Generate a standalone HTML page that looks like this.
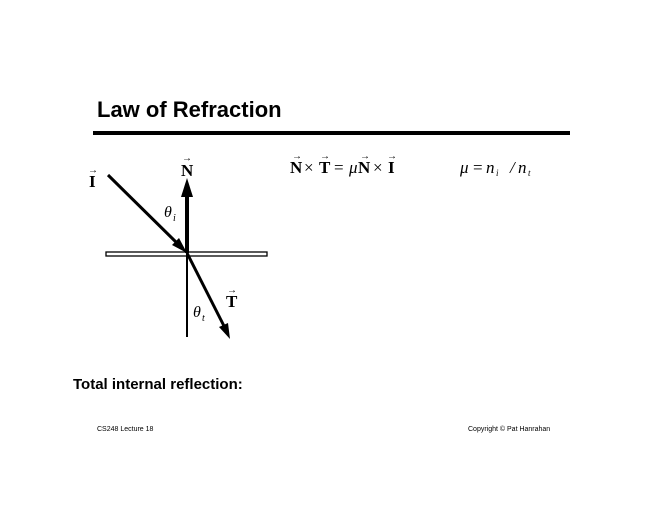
<!DOCTYPE html>
<html><head><meta charset="utf-8"><style>
html,body{margin:0;padding:0;background:#fff;}
body{width:660px;height:510px;position:relative;overflow:hidden;font-family:"Liberation Sans",sans-serif;}
</style></head><body>
<svg width="660" height="510" viewBox="0 0 660 510" xmlns="http://www.w3.org/2000/svg" style="position:absolute;left:0;top:0">
<text x="97" y="117" font-family="Liberation Sans" font-weight="bold" font-size="22" fill="#000">Law of Refraction</text>
<rect x="93" y="131" width="477" height="4" fill="#000"/>
<rect x="106" y="252" width="161" height="4" fill="none" stroke="#000" stroke-width="1.3"/>
<line x1="187" y1="253" x2="187" y2="337" stroke="#000" stroke-width="2"/>
<line x1="187" y1="253" x2="187" y2="195" stroke="#000" stroke-width="4"/>
<polygon points="187,178 181,197 193,197" fill="#000"/>
<line x1="108" y1="175" x2="180" y2="246" stroke="#000" stroke-width="3"/>
<polygon points="187,253 172,245 179,238" fill="#000"/>
<line x1="187" y1="253" x2="224" y2="326" stroke="#000" stroke-width="3"/>
<polygon points="230,339 219,327 228,323" fill="#000"/>
<g font-family="Liberation Serif" font-weight="bold" font-size="17" fill="#000">
<text x="89" y="187">I</text>
<text x="181" y="176">N</text>
<text x="226" y="307">T</text>
</g>
<g font-family="Liberation Serif" font-size="10" fill="#000">
<text x="88" y="173">→</text><text x="182" y="161">→</text><text x="227" y="293">→</text>
</g>
<g font-family="Liberation Serif" font-style="italic" font-size="16" fill="#000">
<text x="164" y="217">θ</text><text x="173" y="221" font-size="10">i</text>
<text x="193" y="317">θ</text><text x="202" y="321" font-size="10">t</text>
</g>
<g font-family="Liberation Serif" font-size="17" fill="#000">
<text x="290" y="173" font-weight="bold">N</text>
<text x="304" y="173">×</text>
<text x="319" y="173" font-weight="bold">T</text>
<text x="334" y="173">=</text>
<text x="349" y="173" font-style="italic">μ</text>
<text x="358" y="173" font-weight="bold">N</text>
<text x="373" y="173">×</text>
<text x="388" y="173" font-weight="bold">I</text>
<g font-size="10"><text x="292" y="159">→</text><text x="320" y="159">→</text><text x="360" y="159">→</text><text x="387" y="159">→</text></g>
<text x="460" y="173" font-style="italic">μ</text><text x="473" y="173">=</text><text x="486" y="173" font-style="italic">n</text><text x="496" y="176" font-size="9" font-style="italic">i</text><text x="510" y="173" font-style="italic">/</text><text x="518" y="173" font-style="italic">n</text><text x="528" y="176" font-size="9" font-style="italic">t</text>
</g>
<text x="73" y="389" font-family="Liberation Sans" font-weight="bold" font-size="15" fill="#000">Total internal reflection:</text>
<text x="97" y="431" font-family="Liberation Sans" font-size="7" fill="#000">CS248 Lecture 18</text>
<text x="468" y="431" font-family="Liberation Sans" font-size="7" fill="#000">Copyright © Pat Hanrahan</text>
</svg>
</body></html>
